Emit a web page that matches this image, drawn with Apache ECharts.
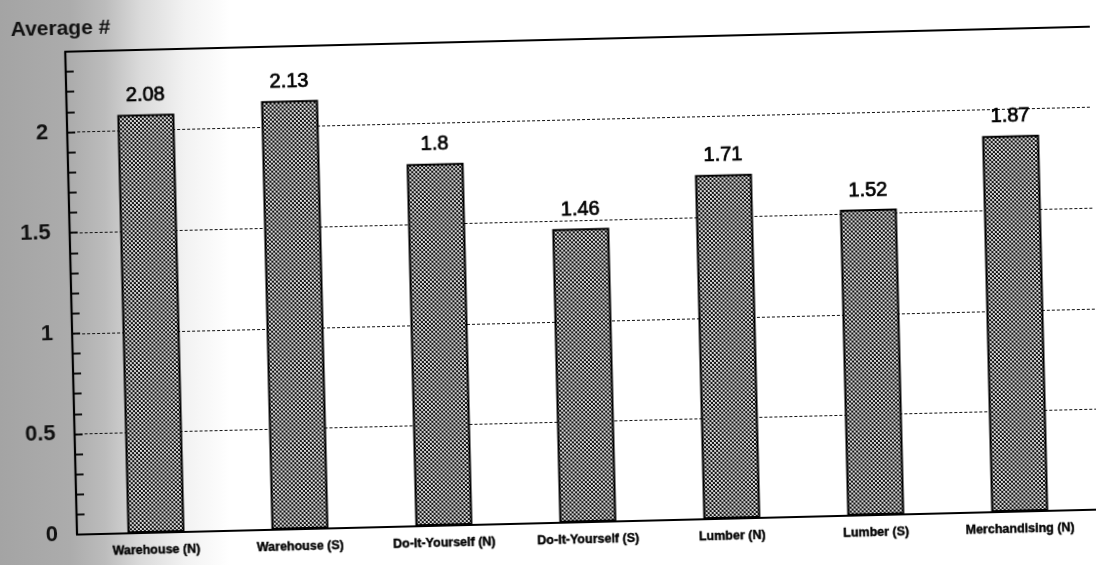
<!DOCTYPE html>
<html>
<head>
<meta charset="utf-8">
<script src="https://cdn.jsdelivr.net/npm/echarts@6/dist/echarts.min.js"></script>
<style>
  html, body { margin: 0; padding: 0; width: 1096px; height: 565px; overflow: hidden; }
  body {
    background:
      linear-gradient(90deg, #a4a4a4 0px, #acacac 70px, #bcbcbc 105px, #dadada 140px, #f2f2f2 185px, #ffffff 230px);
  }
  #chart { width: 1096px; height: 565px; transform: rotate(-1.4deg); transform-origin: 548px 282px; }
</style>
</head>
<body>
<div id="chart"></div>
<script>
// Store types and the average count for each
const categories = ['Warehouse (N)', 'Warehouse (S)', 'Do-It-Yourself (N)', 'Do-It-Yourself (S)',
                    'Lumber (N)', 'Lumber (S)', 'Merchandising (N)'];
const averages = [2.08, 2.13, 1.8, 1.46, 1.71, 1.52, 1.87];
const yMin = 0;
const yMax = 2.4;
const titleText = 'Average #';

// Dotted halftone fill used for the bars
function makePattern() {
  const c = document.createElement('canvas');
  c.width = 4; c.height = 4;
  const g = c.getContext('2d');
  g.fillStyle = '#141414';
  g.fillRect(0, 0, 4, 4);
  g.fillStyle = '#c8c8c8';
  g.fillRect(0, 0, 2, 2);
  g.fillRect(2, 2, 2, 2);
  g.fillStyle = '#eeeeee';
  g.fillRect(0, 0, 1, 1);
  g.fillRect(2, 2, 1, 1);
  return c;
}

const chart = echarts.init(document.getElementById('chart'), null, { renderer: 'canvas' });
const axisFont = 'Liberation Sans, Arial, sans-serif';

function yLabel(v) {
  const twice = v * 2;
  return Math.abs(twice - Math.round(twice)) < 1e-6 ? String(Number(v.toFixed(1))) : '';
}

chart.setOption({
  animation: false,
  backgroundColor: 'transparent',
  title: {
    text: titleText,
    left: 12, top: 2,
    textStyle: { fontFamily: axisFont, fontWeight: 'bold', fontSize: 21, color: '#111' }
  },
  grid: [
    { left: 71, top: 40, width: 1070, bottom: 42 },   // frame, ticks, gridlines
    { left: 78, top: 40, width: 1008, bottom: 42 }    // bars
  ],
  xAxis: [
    { type: 'value', gridIndex: 0, min: 0, max: 1, position: 'bottom',
      axisLine: { show: true, onZero: false, lineStyle: { color: '#000', width: 2.2 } },
      axisTick: { show: false }, axisLabel: { show: false }, splitLine: { show: false } },
    { type: 'value', gridIndex: 0, min: 0, max: 1, position: 'top',
      axisLine: { show: true, onZero: false, lineStyle: { color: '#000', width: 1.8 } },
      axisTick: { show: false }, axisLabel: { show: false }, splitLine: { show: false } },
    { type: 'category', gridIndex: 1, data: categories, position: 'bottom',
      axisLine: { show: false }, axisTick: { show: false },
      axisLabel: { interval: 0, hideOverlap: false, margin: 11, fontFamily: axisFont, fontWeight: 'bold',
                   fontSize: 12.5, color: '#000', textBorderColor: '#000', textBorderWidth: 0.4 } }
  ],
  yAxis: [
    { type: 'value', gridIndex: 0, min: yMin, max: yMax, interval: 0.1, position: 'left',
      axisLine: { show: true, onZero: false, lineStyle: { color: '#000', width: 2.2 } },
      axisTick: { show: true, inside: true, length: 8, lineStyle: { color: '#000', width: 1.8 } },
      axisLabel: { formatter: yLabel, margin: 19, fontFamily: axisFont, fontWeight: 'bold', fontSize: 22, color: '#111' },
      splitLine: { show: false } },
    { type: 'value', gridIndex: 0, min: yMin, max: yMax, interval: 0.5, position: 'left',
      axisLine: { show: false }, axisTick: { show: false }, axisLabel: { show: false },
      splitLine: { show: true, lineStyle: { color: '#111', width: 1.2, type: [3, 2] } } },
    { type: 'value', gridIndex: 1, min: yMin, max: yMax, show: false }
  ],
  series: [{
    type: 'bar',
    xAxisIndex: 2,
    yAxisIndex: 2,
    data: averages,
    barWidth: 57,
    itemStyle: {
      color: { image: makePattern(), repeat: 'repeat' },
      borderColor: '#000',
      borderWidth: 2
    },
    label: {
      show: true, position: 'top', distance: 9,
      fontFamily: axisFont, fontSize: 20, color: '#000',
      textBorderColor: '#000', textBorderWidth: 0.7
    }
  }]
});
</script>
</body>
</html>
